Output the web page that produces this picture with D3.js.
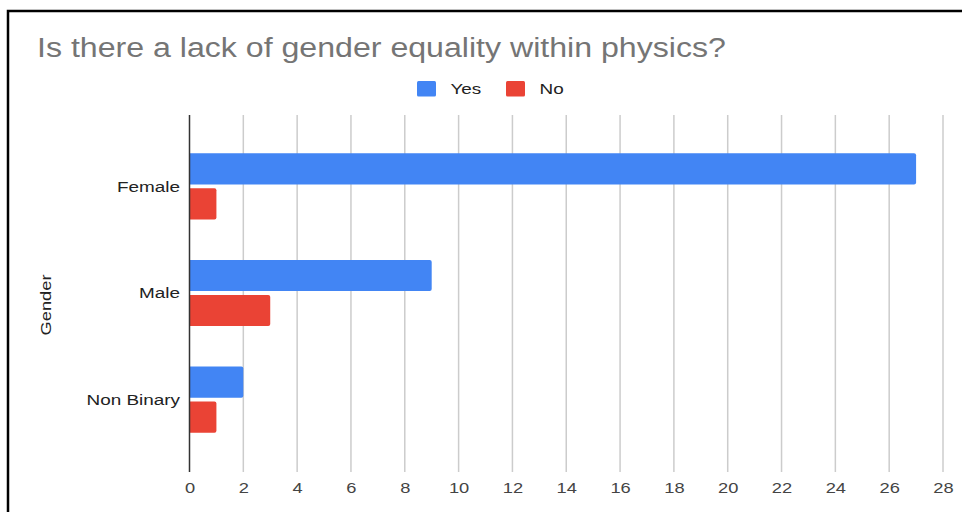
<!DOCTYPE html>
<html><head><meta charset="utf-8">
<script src="https://cdn.jsdelivr.net/npm/d3@7"></script>
<style>html,body{margin:0;padding:0;background:#fff;}svg{display:block;}</style>
</head><body>
<script>
const categories = ["Female", "Male", "Non Binary"];
const seriesNames = ["Yes", "No"];
const yesValues = [27, 9, 2];
const noValues = [1, 3, 1];
const tickValues = [0, 2, 4, 6, 8, 10, 12, 14, 16, 18, 20, 22, 24, 26, 28];
const colors = ["#4285F4", "#EA4335"];
const title = "Is there a lack of gender equality within physics?";
const yTitle = "Gender";

const W = 962, H = 512;
const font = "'Liberation Sans', Arial, sans-serif";
const SX = 1.22; // horizontal widening of the source's lettering
const svg = d3.select("body").append("svg").attr("width", W).attr("height", H);
svg.append("rect").attr("width", W).attr("height", H).attr("fill", "#fff");

// frame
svg.append("rect").attr("x", 8).attr("y", 11).attr("width", W + 20).attr("height", H + 20)
  .attr("fill", "none").attr("stroke", "#000").attr("stroke-width", 2.5);

const x = d3.scaleLinear().domain([0, 28]).range([189.5, 943]);
const y = d3.scaleBand().domain(categories).range([115, 471]).paddingInner(0.38).paddingOuter(0.36);
const ySub = d3.scaleBand().domain(seriesNames).range([0, y.bandwidth()]).paddingInner(0.11);

// gridlines
svg.append("g").selectAll("line").data(tickValues.filter(d => d !== 0)).join("line")
  .attr("x1", d => x(d)).attr("x2", d => x(d)).attr("y1", 115).attr("y2", 472)
  .attr("stroke", "#cccccc").attr("stroke-width", 1.5);

// bars
const data = categories.map((c, i) => ({cat: c, vals: [yesValues[i], noValues[i]]}));
const groups = svg.append("g").selectAll("g").data(data).join("g")
  .attr("transform", d => `translate(0,${y(d.cat)})`);
groups.selectAll("path").data(d => d.vals.map((v, j) => ({v, s: seriesNames[j], j}))).join("path")
  .attr("fill", d => colors[d.j])
  .attr("d", d => {
    const x0 = x(0), x1 = x(d.v), y0 = ySub(d.s), h = ySub.bandwidth(), r = 2;
    return `M${x0},${y0}H${x1 - r}Q${x1},${y0} ${x1},${y0 + r}V${y0 + h - r}Q${x1},${y0 + h} ${x1 - r},${y0 + h}H${x0}Z`;
  });

// baseline
svg.append("line").attr("x1", x(0)).attr("x2", x(0)).attr("y1", 115).attr("y2", 472)
  .attr("stroke", "#333").attr("stroke-width", 1.5);

// x axis tick labels
const xAxis = d3.axisBottom(x).tickValues(tickValues).tickSize(0).tickPadding(0);
const gx = svg.append("g").attr("transform", "translate(0,493)").call(xAxis);
gx.select(".domain").remove();
gx.selectAll("text").attr("dy", 0).attr("y", 0).attr("font-family", font).attr("font-size", 15)
  .attr("fill", "#444").attr("transform", `scale(${SX},1)`);

// y axis labels
const yAxis = d3.axisLeft(y).tickSize(0).tickPadding(0);
const gy = svg.append("g").attr("transform", "translate(180,0)").call(yAxis);
gy.select(".domain").remove();
gy.selectAll("text").attr("x", 0).attr("font-family", font).attr("font-size", 15.5).attr("fill", "#222")
  .attr("dy", "0.35em").attr("transform", `scale(${SX},1)`);

// y title
svg.append("text").attr("transform", `translate(51,305) rotate(-90) scale(${SX},1)`)
  .attr("text-anchor", "middle").attr("font-family", font).attr("font-size", 15).attr("fill", "#222")
  .text(yTitle);

// title
svg.append("text").attr("transform", "translate(37,57) scale(1.19,1)")
  .attr("font-family", font).attr("font-size", 27).attr("fill", "#757575").text(title);

// legend
const legendX = [417, 506];
const lg = svg.append("g").selectAll("g").data(seriesNames).join("g")
  .attr("transform", (d, i) => `translate(${legendX[i]},81)`);
lg.append("rect").attr("width", 19).attr("height", 15.5).attr("rx", 1.5).attr("fill", (d, i) => colors[i]);
lg.append("text").attr("transform", `translate(33.5,13) scale(${SX},1)`).attr("font-family", font).attr("font-size", 15.5)
  .attr("fill", "#222").text(d => d);
</script>
</body></html>
